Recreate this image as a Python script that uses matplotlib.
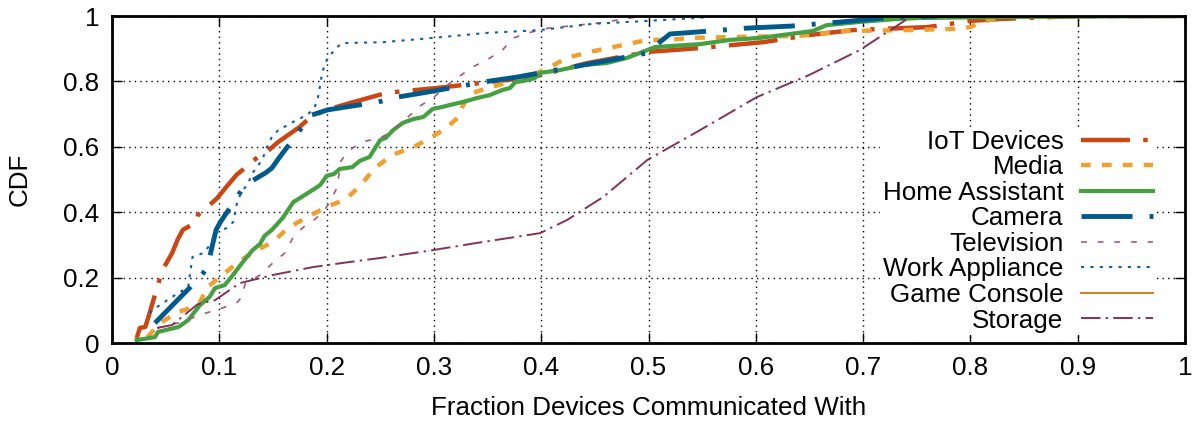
import matplotlib
matplotlib.use("Agg")
import matplotlib.pyplot as plt
from matplotlib.ticker import FormatStrFormatter

plt.rcParams['font.family'] = ['Liberation Sans', 'DejaVu Sans']
plt.rcParams['font.size'] = 18.7

# CDF curves (fraction of devices, cumulative share)
iot_x = [0.023, 0.026, 0.031, 0.034, 0.040, 0.047, 0.056, 0.061, 0.066, 0.079, 0.080,
         0.093, 0.098, 0.108, 0.116, 0.127, 0.136, 0.143, 0.155, 0.175, 0.185, 0.200,
         0.222, 0.256, 0.303, 0.343, 0.392, 0.443, 0.499, 0.548, 0.607, 0.650, 0.691,
         0.760, 0.800, 0.828, 0.902, 1.0]
iot_y = [0.015, 0.046, 0.049, 0.080, 0.147, 0.223, 0.275, 0.315, 0.346, 0.370, 0.391,
         0.428, 0.443, 0.483, 0.514, 0.544, 0.569, 0.581, 0.615, 0.661, 0.691, 0.713,
         0.734, 0.765, 0.780, 0.795, 0.813, 0.856, 0.890, 0.902, 0.920, 0.942, 0.957,
         0.966, 0.985, 0.991, 1.0, 1.0]

media_x = [0.033, 0.045, 0.061, 0.068, 0.082, 0.089, 0.103, 0.119, 0.135, 0.150, 0.164,
           0.182, 0.200, 0.218, 0.231, 0.245, 0.261, 0.281, 0.298, 0.310, 0.322, 0.326,
           0.333, 0.350, 0.371, 0.392, 0.405, 0.424, 0.445, 0.476, 0.499, 0.518, 0.539,
           0.579, 0.638, 0.660, 0.681, 0.741, 0.781, 0.800, 0.806, 0.821, 0.837, 1.0]
media_y = [0.018, 0.061, 0.095, 0.101, 0.125, 0.171, 0.208, 0.251, 0.284, 0.309, 0.352,
           0.385, 0.416, 0.440, 0.480, 0.535, 0.575, 0.599, 0.630, 0.654, 0.688, 0.719,
           0.761, 0.780, 0.798, 0.820, 0.838, 0.872, 0.890, 0.911, 0.927, 0.927, 0.933,
           0.936, 0.939, 0.945, 0.954, 0.957, 0.960, 0.966, 0.976, 0.991, 1.0, 1.0]

home_x = [0.023, 0.040, 0.043, 0.062, 0.071, 0.082, 0.091, 0.096, 0.105, 0.112, 0.122,
          0.131, 0.138, 0.142, 0.149, 0.154, 0.159, 0.169, 0.175, 0.187, 0.194, 0.200,
          0.207, 0.212, 0.224, 0.231, 0.240, 0.250, 0.255, 0.262, 0.271, 0.281, 0.290,
          0.299, 0.308, 0.315, 0.327, 0.340, 0.352, 0.364, 0.371, 0.376, 0.383, 0.394,
          0.399, 0.418, 0.439, 0.461, 0.480, 0.499, 0.506, 0.548, 0.576, 0.604, 0.632,
          0.653, 0.666, 0.697, 0.732, 0.753, 0.828, 1.0]
home_y = [0.009, 0.018, 0.034, 0.049, 0.070, 0.116, 0.141, 0.168, 0.177, 0.205, 0.248,
          0.284, 0.303, 0.327, 0.346, 0.364, 0.382, 0.431, 0.443, 0.468, 0.483, 0.511,
          0.517, 0.532, 0.538, 0.557, 0.569, 0.621, 0.627, 0.651, 0.673, 0.685, 0.691,
          0.716, 0.722, 0.728, 0.737, 0.749, 0.758, 0.774, 0.780, 0.798, 0.801, 0.810,
          0.826, 0.835, 0.850, 0.856, 0.872, 0.896, 0.905, 0.914, 0.927, 0.933, 0.945,
          0.954, 0.972, 0.982, 0.991, 0.994, 0.997, 1.0]

cam_x = [0.040, 0.073, 0.085, 0.089, 0.093, 0.097, 0.101, 0.113, 0.122, 0.127, 0.143,
         0.149, 0.155, 0.171, 0.182, 0.186, 0.201, 0.248, 0.266, 0.290, 0.336, 0.352,
         0.377, 0.424, 0.464, 0.499, 0.506, 0.520, 0.545, 0.592, 0.632, 0.680, 0.720, 0.769]
cam_y = [0.061, 0.171, 0.214, 0.232, 0.291, 0.346, 0.370, 0.428, 0.474, 0.489, 0.520,
         0.535, 0.563, 0.633, 0.682, 0.697, 0.713, 0.737, 0.752, 0.765, 0.792, 0.801,
         0.813, 0.841, 0.865, 0.887, 0.908, 0.945, 0.951, 0.963, 0.969, 0.982, 0.994, 1.0]

tv_x = [0.042, 0.065, 0.082, 0.103, 0.117, 0.121, 0.124, 0.127, 0.138, 0.149, 0.161,
        0.170, 0.182, 0.186, 0.197, 0.203, 0.210, 0.213, 0.219, 0.233, 0.250, 0.261,
        0.274, 0.287, 0.299, 0.315, 0.327, 0.336, 0.349, 0.364, 0.374, 0.391, 0.407,
        0.455, 0.489, 0.501]
tv_y = [0.046, 0.064, 0.086, 0.107, 0.125, 0.141, 0.180, 0.187, 0.208, 0.242, 0.275,
        0.330, 0.364, 0.370, 0.401, 0.431, 0.477, 0.554, 0.584, 0.615, 0.627, 0.648,
        0.685, 0.725, 0.749, 0.795, 0.823, 0.844, 0.865, 0.896, 0.933, 0.951, 0.963,
        0.979, 0.997, 1.0]

work_x = [0.035, 0.042, 0.056, 0.071, 0.075, 0.085, 0.093, 0.096, 0.107, 0.113, 0.117,
          0.121, 0.127, 0.131, 0.140, 0.144, 0.149, 0.155, 0.164, 0.172, 0.182, 0.189,
          0.192, 0.194, 0.196, 0.201, 0.210, 0.214, 0.253, 0.299, 0.348, 0.399, 0.448,
          0.499, 0.545, 0.567]
work_y = [0.092, 0.110, 0.141, 0.171, 0.263, 0.275, 0.306, 0.336, 0.352, 0.370, 0.437,
          0.462, 0.489, 0.520, 0.560, 0.596, 0.630, 0.651, 0.667, 0.682, 0.697, 0.722,
          0.752, 0.789, 0.829, 0.872, 0.905, 0.917, 0.920, 0.933, 0.948, 0.957, 0.976,
          0.985, 0.994, 1.0]

game_x = [0.75, 1.0]
game_y = [1.0, 1.0]

stor_x = [0.042, 0.056, 0.080, 0.096, 0.119, 0.150, 0.187, 0.222, 0.250, 0.299, 0.340,
          0.399, 0.424, 0.458, 0.499, 0.548, 0.601, 0.650, 0.697, 0.744, 0.748]
stor_y = [0.046, 0.055, 0.119, 0.131, 0.183, 0.208, 0.232, 0.248, 0.260, 0.284, 0.306,
          0.336, 0.376, 0.447, 0.560, 0.651, 0.752, 0.820, 0.896, 0.997, 1.0]

fig = plt.figure(figsize=(11.95, 4.23), dpi=100)
ax = fig.add_axes([112 / 1195, 80 / 423, 1073 / 1195, 327 / 423])

ax.plot(iot_x, iot_y, color='#cc4614', lw=3.2, dashes=(11, 3, 1, 3), label='IoT Devices')
ax.plot(media_x, media_y, color='#f0a030', lw=3.2, dashes=(2.2, 2.5), label='Media')
ax.plot(home_x, home_y, color='#44a040', lw=3.0, label='Home Assistant')
ax.plot(cam_x, cam_y, color='#005a8c', lw=3.5, dashes=(10.5, 3.5, 0.8, 3.5), label='Camera')
ax.plot(tv_x, tv_y, color='#a05a82', lw=1.2, dashes=(3.5, 6.5), label='Television')
ax.plot(work_x, work_y, color='#1060a0', lw=1.5, dashes=(1.5, 3), label='Work Appliance')
ax.plot(game_x, game_y, color='#d28228', lw=1.5, label='Game Console')
ax.plot(stor_x, stor_y, color='#82325a', lw=1.4, dashes=(10, 2.7, 1.2, 2.7), label='Storage')

ax.set_xlim(0, 1)
ax.set_ylim(0, 1)
ax.set_xticks([i / 10 for i in range(11)])
ax.set_yticks([i / 5 for i in range(6)])
ax.xaxis.set_major_formatter(FormatStrFormatter('%g'))
ax.yaxis.set_major_formatter(FormatStrFormatter('%g'))
ax.tick_params(direction='in', length=7, width=1, top=True, right=True, pad=9)
ax.grid(True, color='black', linestyle=(0, (1, 3)), linewidth=1)
for s in ax.spines.values():
    s.set_linewidth(2)

ax.set_xlabel('Fraction Devices Communicated With', labelpad=12)
ax.set_ylabel('CDF', labelpad=23)

leg = ax.legend(loc='lower right', bbox_to_anchor=(0.973, 0.024), markerfirst=False,
                handlelength=2.8, handletextpad=0.66, labelspacing=0.06,
                borderpad=0.1, borderaxespad=0, fancybox=False, framealpha=1,
                edgecolor='none')
leg.get_frame().set_linewidth(0)

fig.savefig('out.png', dpi=100)
